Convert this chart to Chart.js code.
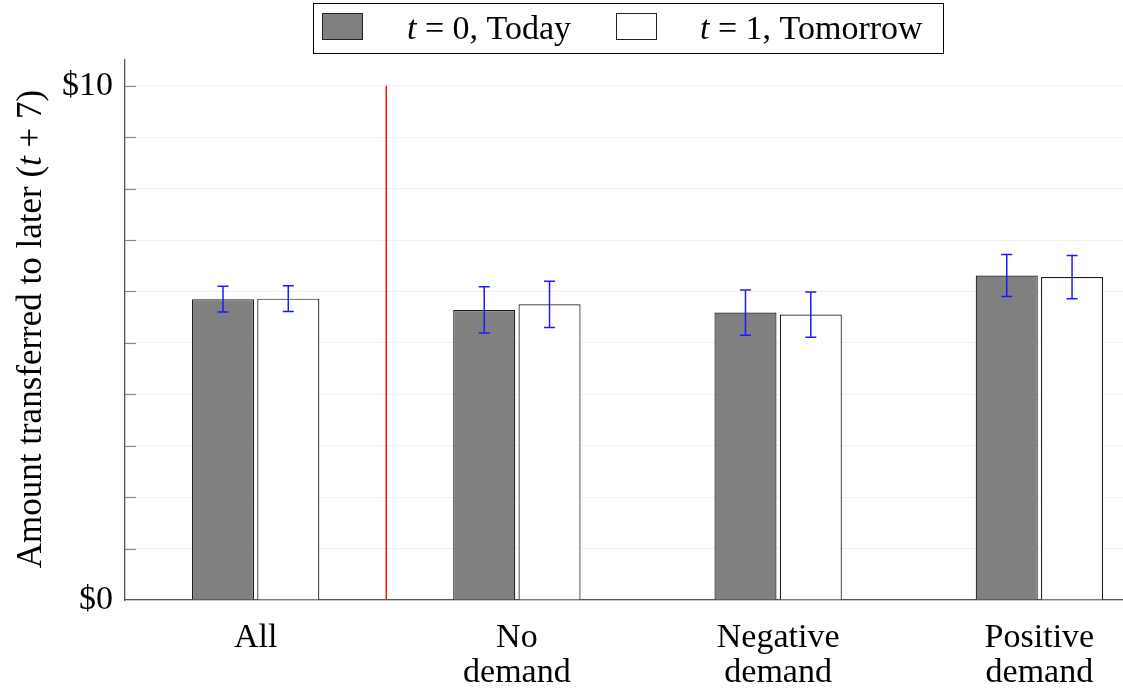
<!DOCTYPE html>
<html>
<head>
<meta charset="utf-8">
<script src="https://cdn.jsdelivr.net/npm/chart.js@4"></script>
<style>
  html, body { margin: 0; padding: 0; background: #ffffff; }
  #wrap { position: relative; width: 1123px; height: 690px; }
</style>
</head>
<body>
<div id="wrap"><canvas id="c" width="1123" height="690"></canvas></div>
<script>
// ---- data ----
const categories = [["All"], ["No", "demand"], ["Negative", "demand"], ["Positive", "demand"]];
const xPositions = [1, 2, 3, 4];
const seriesNames = ["t = 0, Today", "t = 1, Tomorrow"];
const todayMeans = [5.85, 5.64, 5.59, 6.31];
const todayErr = [0.25, 0.45, 0.44, 0.41];
const tomorrowMeans = [5.86, 5.75, 5.55, 6.28];
const tomorrowErr = [0.25, 0.45, 0.44, 0.42];
const yTickValues = [0, 1, 2, 3, 4, 5, 6, 7, 8, 9, 10];
const yTickLabels = { 0: "$0", 10: "$10" };
const dividerX = 1.5;

const FONT = "'Liberation Serif', 'DejaVu Serif', serif";
const FS = 34;
const TITLE_FS = 35;

function toPoints(xs, ys) { return xs.map((x, i) => ({ x: x, y: ys[i] })); }

function drawPieces(ctx, pieces, x, y, size) {
  let cx = x;
  pieces.forEach(p => {
    ctx.font = (p.italic ? "italic " : "") + size + "px " + FONT;
    ctx.fillText(p.text, cx, y);
    cx += ctx.measureText(p.text).width;
  });
  return cx;
}
function piecesWidth(ctx, pieces, size) {
  let w = 0;
  pieces.forEach(p => {
    ctx.font = (p.italic ? "italic " : "") + size + "px " + FONT;
    w += ctx.measureText(p.text).width;
  });
  return w;
}
function splitT(label) {
  return [{ text: label.slice(0, 1), italic: true }, { text: label.slice(1), italic: false }];
}

const extras = {
  id: "extras",
  beforeDatasetsDraw(chart) {
    const ctx = chart.ctx;
    const xs = chart.scales.x, ys = chart.scales.y;
    const area = chart.chartArea;
    ctx.save();
    ctx.strokeStyle = "#8a8a8a";
    ctx.lineWidth = 1.2;
    yTickValues.forEach(v => {
      if (v === 0) return;
      const py = Math.round(ys.getPixelForValue(v)) + 0.5;
      ctx.beginPath();
      ctx.moveTo(area.left, py);
      ctx.lineTo(area.left + 11, py);
      ctx.stroke();
    });
    const px = xs.getPixelForValue(dividerX);
    ctx.strokeStyle = "#ff0000";
    ctx.lineWidth = 1.4;
    ctx.beginPath();
    ctx.moveTo(px, ys.getPixelForValue(0));
    ctx.lineTo(px, ys.getPixelForValue(10));
    ctx.stroke();
    ctx.restore();
  },
  afterDatasetsDraw(chart) {
    const ctx = chart.ctx;
    const ys = chart.scales.y;
    const errs = [todayErr, tomorrowErr];
    const means = [todayMeans, tomorrowMeans];
    ctx.save();
    ctx.strokeStyle = "#1a1aff";
    ctx.lineWidth = 1.5;
    chart.data.datasets.forEach((ds, di) => {
      const meta = chart.getDatasetMeta(di);
      meta.data.forEach((bar, i) => {
        const x = bar.x;
        const top = ys.getPixelForValue(means[di][i] + errs[di][i]);
        const bot = ys.getPixelForValue(means[di][i] - errs[di][i]);
        ctx.beginPath();
        ctx.moveTo(x, top); ctx.lineTo(x, bot);
        ctx.moveTo(x - 5.5, top); ctx.lineTo(x + 5.5, top);
        ctx.moveTo(x - 5.5, bot); ctx.lineTo(x + 5.5, bot);
        ctx.stroke();
      });
    });
    ctx.restore();
  },
  afterDraw(chart) {
    const ctx = chart.ctx;
    ctx.save();
    ctx.strokeStyle = "#000";
    ctx.lineWidth = 1;
    ctx.fillStyle = "#fff";
    ctx.fillRect(313.5, 3.5, 630, 50);
    ctx.strokeRect(313.5, 3.5, 630, 50);
    const sw = [{ x: 322.5, fill: "#808080" }, { x: 616.5, fill: "#ffffff" }];
    const tx = [407, 700];
    chart.data.datasets.forEach((ds, i) => {
      ctx.fillStyle = sw[i].fill;
      ctx.fillRect(sw[i].x, 13.5, 40, 26);
      ctx.strokeStyle = "#222";
      ctx.lineWidth = 1;
      ctx.strokeRect(sw[i].x, 13.5, 40, 26);
      ctx.fillStyle = "#000";
      ctx.textBaseline = "alphabetic";
      ctx.textAlign = "left";
      drawPieces(ctx, splitT(ds.label), tx[i], 39, FS);
    });
    const pieces = [
      { text: "Amount transferred to later (", italic: false },
      { text: "t", italic: true },
      { text: " + 7)", italic: false }
    ];
    const w = piecesWidth(ctx, pieces, TITLE_FS);
    const cy = 329;
    ctx.translate(41, cy);
    ctx.rotate(-Math.PI / 2);
    ctx.fillStyle = "#000";
    drawPieces(ctx, pieces, -w / 2, 0, TITLE_FS);
    ctx.restore();
  }
};

new Chart(document.getElementById("c"), {
  type: "bar",
  data: {
    datasets: [
      {
        label: seriesNames[0],
        data: toPoints(xPositions, todayMeans),
        backgroundColor: "#808080",
        borderColor: "#1a1a1a",
        borderWidth: 1.2,
        barPercentage: 0.95,
        categoryPercentage: 0.5
      },
      {
        label: seriesNames[1],
        data: toPoints(xPositions, tomorrowMeans),
        backgroundColor: "#ffffff",
        borderColor: "#1a1a1a",
        borderWidth: 1.2,
        barPercentage: 0.95,
        categoryPercentage: 0.5
      }
    ]
  },
  options: {
    responsive: false,
    animation: false,
    layout: { padding: { top: 60, left: 0, right: 0, bottom: 0 } },
    plugins: { legend: { display: false }, tooltip: { enabled: false } },
    scales: {
      x: {
        type: "linear",
        offset: false,
        min: 0.5,
        max: 4.32,
        grid: { display: false, drawTicks: false },
        border: { color: "#555", width: 1.3 },
        afterBuildTicks: s => { s.ticks = xPositions.map(v => ({ value: v })); },
        afterFit: s => { s.height = 90; },
        ticks: {
          padding: 20,
          color: "#000",
          maxRotation: 0,
          autoSkip: false,
          font: { family: FONT, size: FS, lineHeight: 1.04 },
          callback: v => { const i = xPositions.indexOf(v); return i >= 0 ? categories[i] : ""; }
        }
      },
      y: {
        min: 0,
        max: 10.5,
        grid: { color: "#efefef", lineWidth: 1, drawTicks: false },
        border: { color: "#555", width: 1.3 },
        afterBuildTicks: s => { s.ticks = yTickValues.map(v => ({ value: v })); },
        afterFit: s => { s.width = 125; },
        ticks: {
          padding: 12,
          color: "#000",
          autoSkip: false,
          font: { family: FONT, size: FS },
          callback: v => (yTickLabels[v] !== undefined ? yTickLabels[v] : "")
        }
      }
    }
  },
  plugins: [extras]
});
</script>
</body>
</html>
